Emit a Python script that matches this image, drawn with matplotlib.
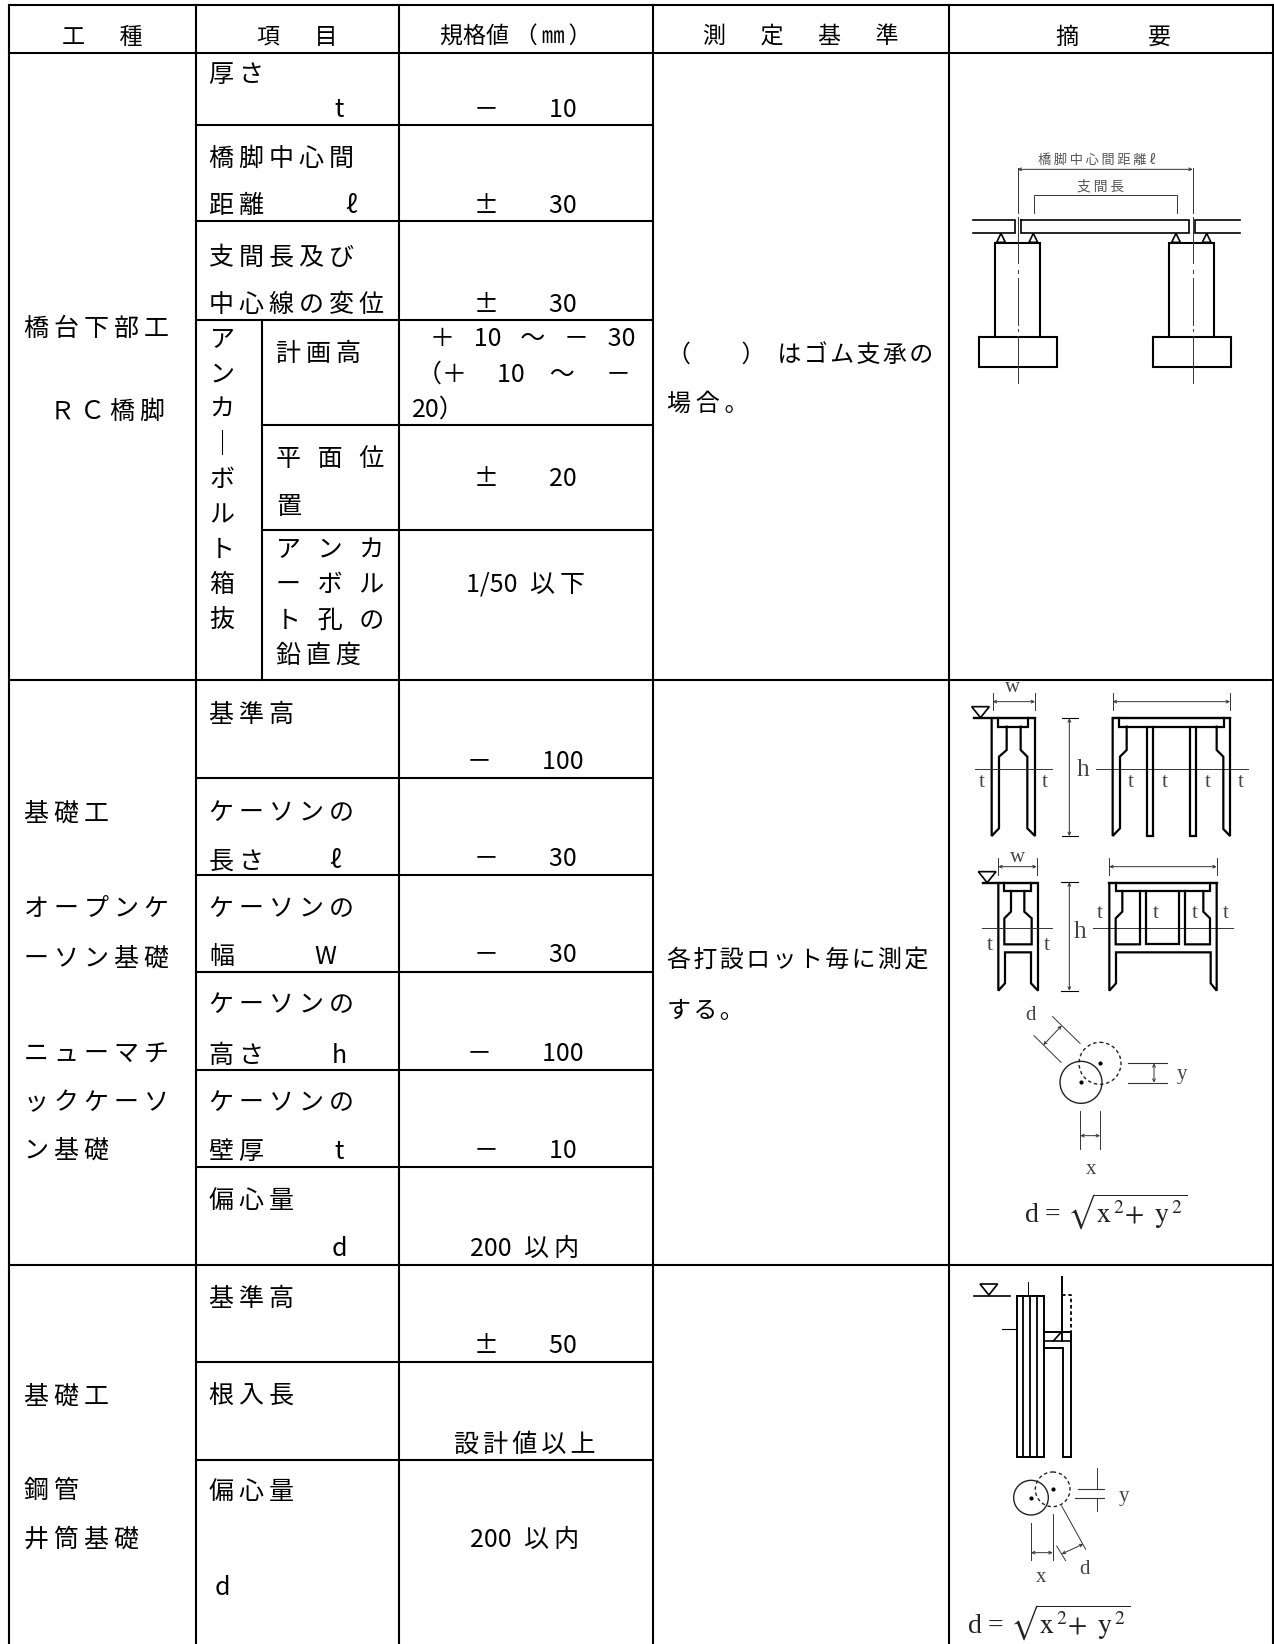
import matplotlib
matplotlib.use("Agg")
import matplotlib.pyplot as plt
from matplotlib.patches import Circle, Polygon

plt.rcParams['font.family'] = ['Noto Sans CJK JP', 'DejaVu Sans']
plt.rcParams['mathtext.fontset'] = 'stix'

W, H = 1274, 1644
GAP = "\u2009"
BODY = 25*0.72
HEAD = 23*0.72
NOTE = 24*0.72

def sp(s,gap=GAP):
  return gap.join(s)

# table rules, in pixels of the page
COLS = [9,196,399,653,949,1273]
FULL_RULES = [5,53,680,1265]
ITEM_RULES = [125,221,320,778,875,972,1070,1167,1362,1460]
ANCHOR_RULES = [425,530]

HEADERS = ["工\u3000\u2005\u2005種", "項\u3000\u2005\u2005目", "規格値\u2005（\u2006㎜\u2006）",
           "測\u3000\u2005\u2005定\u3000\u2005\u2005基\u3000\u2005\u2005準", "摘\u3000\u3000\u3000要"]
HEADER_X = [102,297,516,801,1113]

WORK = [sp("橋台下部工"), sp("ＲＣ橋脚"), sp("基礎工"), sp("オープンケ"), sp("ーソン基礎"),
        sp("ニューマチ"), sp("ックケーソ"), sp("ン基礎"), sp("基礎工"), sp("鋼管"), sp("井筒基礎")]
WORK_X = [24,50,24,24,24,24,24,24,24,24,24]
WORK_Y = [327,410,811,907,956,1052,1101,1148,1394,1489,1537]

ITEMS = [sp("厚さ"), sp("橋脚中心間"), sp("距離"), sp("支間長及び"), sp("中心線の変位"),
         sp("基準高"), sp("ケーソンの"), sp("長さ"), sp("ケーソンの"), sp("幅"), sp("ケーソンの"),
         sp("高さ"), sp("ケーソンの"), sp("壁厚"), sp("偏心量"),
         sp("基準高"), sp("根入長"), sp("偏心量")]
ITEMS_Y = [73,157,204,255,303,713,811,859,907,955,1003,1054,1101,1150,1199,1297,1394,1490]

SYMBOLS = ["t","ℓ","ℓ","W","h","t","d","d"]
SYMBOLS_X = [339,351,335,325,339,339,339,222]
SYMBOLS_Y = [108,204,859,955,1054,1150,1247,1586]

ANCHOR_SIDE = "\n".join("アンカ｜ボルト箱抜")
WIDE = "\u2002\u2006"
ANCHOR = [sp("計画高"), sp("平面位",WIDE), "置", sp("アンカ",WIDE), sp("ーボル",WIDE),
          sp("ト孔の",WIDE), sp("鉛直度")]
ANCHOR_Y = [352,457,505,548,583,618,653]

VALUES = ["－\u3000\u300010","±\u3000\u300030","±\u3000\u300030","±\u3000\u300020","1/50\u2002以\u2009下",
          "－\u3000\u3000100","－\u3000\u300030","－\u3000\u300030","－\u3000\u3000100","－\u3000\u300010","200\u2002以\u2009内",
          "±\u3000\u300050",sp("設計値以上","\u2006"),"200\u2002以\u2009内"]
VALUES_Y = [108,204,303,477,582,760,857,953,1052,1149,1247,1344,1442,1538]

VALUE_LINES = [sp(["＋","10","～","－","30"],"\u2002\u2005"),
               "（＋\u3000\u200910\u3000～\u3000\u2005－", "20）"]
VALUE_LINES_X = [430,417,412]
VALUE_LINES_Y = [337,372,407]

NOTES = ["（\u200a\u3000\u3000）\u2002"+sp("はゴム支承の","\u200a"), sp("場合。","\u2009"),
         sp("各打設ロット毎に測定","\u200a"), sp("する。","\u200a")]
NOTES_Y = [354,402,959,1009]

fig = plt.figure(figsize=(W/100,H/100),dpi=100)
ax = fig.add_axes([0,0,1,1])
ax.set_xlim(0,W)
ax.set_ylim(H,0)
ax.axis('off')

def put(x,y,s,size=BODY,ha='left',**kw):
  # y is the middle of the line, the baseline sits a little below
  ax.text(x,y+size*0.52,s,fontsize=size,ha=ha,va='baseline',color='black',**kw)

for x in COLS:
  ax.plot([x,x],[5,H],color='black',lw=1.5,solid_capstyle='projecting')
for y in FULL_RULES:
  ax.plot([COLS[0],COLS[-1]],[y,y],color='black',lw=1.5)
for y in ITEM_RULES:
  ax.plot([COLS[1],COLS[3]],[y,y],color='black',lw=1.5)
for y in ANCHOR_RULES:
  ax.plot([262,COLS[3]],[y,y],color='black',lw=1.5)
ax.plot([262,262],[320,680],color='black',lw=1.5)

for s,x in zip(HEADERS,HEADER_X):
  put(x,35,s,HEAD,ha='center')
for s,x,y in zip(WORK,WORK_X,WORK_Y):
  put(x,y,s)
for s,y in zip(ITEMS,ITEMS_Y):
  put(209,y,s)
for s,x,y in zip(SYMBOLS,SYMBOLS_X,SYMBOLS_Y):
  put(x,y,s,ha='center')
ax.text(222,327,ANCHOR_SIDE,fontsize=BODY,ha='center',va='top',linespacing=1.45,ma='center')
for s,y in zip(ANCHOR,ANCHOR_Y):
  put(276,y,s)
for s,y in zip(VALUES,VALUES_Y):
  put(525,y,s,ha='center')
for s,x,y in zip(VALUE_LINES,VALUE_LINES_X,VALUE_LINES_Y):
  put(x,y,s)
for s,y in zip(NOTES,NOTES_Y):
  put(667,y,s,NOTE)

# line art below is traced in the 3x zoom coordinates of each drawing
def path(o,pts,lw=1.3,color='black',ls='-'):
  xs = [o[0]+p[0]/3.0 for p in pts]
  ys = [o[1]+p[1]/3.0 for p in pts]
  ax.plot(xs,ys,color=color,lw=lw,ls=ls,solid_joinstyle='miter')

def dim(o,a,b,color='#333333'):
  ax.annotate('',xy=(o[0]+b[0]/3.0,o[1]+b[1]/3.0),xytext=(o[0]+a[0]/3.0,o[1]+a[1]/3.0),
              arrowprops=dict(arrowstyle='<->',color=color,lw=0.7,mutation_scale=5,shrinkA=0,shrinkB=0))

def label(o,x,y,s,size=15,color='#444444'):
  ax.text(o[0]+x/3.0,o[1]+y/3.0,s,fontsize=size,ha='center',va='center',color=color,family='Liberation Serif')

def bearing(o,x,y):
  ax.add_patch(Polygon([(o[0]+x/3.0,o[1]+y/3.0),(o[0]+(x-13)/3.0,o[1]+(y+27)/3.0),(o[0]+(x+13)/3.0,o[1]+(y+27)/3.0)],
                       closed=True,fill=False,ec='black',lw=1.2))

# pier drawing
P = (940,130)
path(P,[(100,270),(225,270),(225,308),(100,308)],1.2)
path(P,[(900,270),(765,270),(765,308),(900,308)],1.2)
path(P,[(243,270),(747,270),(747,308),(243,308),(243,270)],1.2)
for x in [165,688]:
  path(P,[(x,620),(x,340),(x+135,340),(x+135,620)],1.5)
for x in [117,638]:
  path(P,[(x,622),(x+234,622),(x+234,712),(x,712),(x,622)],1.5)
for x in [183,280,708,800]:
  bearing(P,x,310)
for x in [233,758]:
  path(P,[(x,115),(x,250)],0.7,'#333333')
  path(P,[(x,262),(x,400)],0.7,'#333333')
  path(P,[(x,420),(x,428)],0.7,'#333333')
  path(P,[(x,445),(x,585)],0.7,'#333333')
  path(P,[(x,597),(x,604)],0.7,'#333333')
  path(P,[(x,618),(x,758)],0.7,'#333333')
dim(P,(233,118),(758,118))
path(P,[(282,250),(282,195),(712,195),(712,250)],0.7,'#333333')
ax.text(P[0]+470/3.0,P[1]+90/3.0,sp("橋脚中心間距離")+" ℓ",fontsize=9.5,ha='center',va='center',color='#555555')
ax.text(P[0]+482/3.0,P[1]+170/3.0,sp("支間長"),fontsize=10,ha='center',va='center',color='#555555')

def water(o,x,y,wide=53):
  ax.add_patch(Polygon([(o[0]+x/3.0,o[1]+y/3.0),(o[0]+(x+wide)/3.0,o[1]+y/3.0),(o[0]+(x+wide/2.0)/3.0,o[1]+(y+33)/3.0)],
                       closed=True,fill=False,ec='black',lw=1.2))

# open caisson drawings
C = (950,675)
water(C,65,95)
path(C,[(72,130),(255,130)],1.7)
path(C,[(125,130),(125,483),(147,460),(147,245),(170,225),(170,155)],1.6)
path(C,[(255,130),(255,483),(232,460),(232,245),(212,225),(212,155)],1.6)
path(C,[(145,130),(145,155),(233,155),(233,130)],1.6)
path(C,[(75,282),(305,282)],0.7,'#333333')
path(C,[(128,55),(128,105)],0.7,'#333333')
path(C,[(255,55),(255,105)],0.7,'#333333')
dim(C,(128,80),(255,80))
label(C,187,38,'w')
label(C,95,322,'t')
label(C,285,322,'t')
label(C,398,285,'h',18)
dim(C,(358,130),(358,483))
path(C,[(335,130),(385,130)],0.8)
path(C,[(335,483),(385,483)],0.8)
path(C,[(437,282),(893,282)],0.7,'#333333')
path(C,[(488,130),(840,130)],1.7)
path(C,[(488,130),(488,483),(510,460),(510,245),(530,225),(530,155)],1.6)
path(C,[(840,130),(840,483),(820,462),(820,245),(800,225),(800,155)],1.6)
path(C,[(508,130),(508,155),(822,155),(822,130)],1.6)
for x in [590,720]:
  path(C,[(x,155),(x,482),(x+19,482),(x+19,155)],1.6)
path(C,[(488,55),(488,105)],0.7,'#333333')
path(C,[(840,55),(840,105)],0.7,'#333333')
dim(C,(488,80),(840,80))
for x in [542,643,773,873]:
  label(C,x,322,'t')

water(C,85,590)
path(C,[(100,624),(262,624)],1.7)
path(C,[(145,624),(145,947),(165,925),(165,832),(243,832),(243,925),(264,947),(264,624)],1.6)
path(C,[(163,624),(163,648),(243,648),(243,624)],1.6)
path(C,[(183,648),(183,710),(163,730),(163,808),(245,808),(245,730),(223,710),(223,648)],1.6)
path(C,[(97,760),(307,760)],0.7,'#333333')
label(C,118,810,'t')
label(C,290,810,'t')
label(C,203,548,'w')
path(C,[(145,550),(145,600)],0.7,'#333333')
path(C,[(260,550),(260,600)],0.7,'#333333')
dim(C,(145,575),(260,575))
label(C,390,770,'h',18)
dim(C,(358,622),(358,947))
path(C,[(332,622),(385,622)],0.8)
path(C,[(332,947),(385,947)],0.8)
path(C,[(430,760),(848,760)],0.7,'#333333')
path(C,[(478,624),(800,624)],1.7)
path(C,[(478,624),(478,947),(498,925),(498,832),(782,832),(782,925),(800,947),(800,624)],1.6)
path(C,[(497,624),(497,648),(780,648),(780,624)],1.6)
path(C,[(517,648),(517,710),(497,730),(497,808),(570,808),(570,648)],1.6)
path(C,[(588,648),(588,808),(688,808),(688,648)],1.6)
path(C,[(705,648),(705,808),(780,808),(780,730),(760,710),(760,648)],1.6)
path(C,[(478,550),(478,600)],0.7,'#333333')
path(C,[(800,550),(800,600)],0.7,'#333333')
dim(C,(478,575),(800,575))
for x,s in zip([450,617,735,828],'tttt'):
  label(C,x,715,s)

def circles(o,c1,c2,r):
  ax.add_patch(Circle((o[0]+c1[0]/3.0,o[1]+c1[1]/3.0),r/3.0,fill=False,ec='#222222',lw=1.0))
  ax.add_patch(Circle((o[0]+c2[0]/3.0,o[1]+c2[1]/3.0),r/3.0,fill=False,ec='#222222',lw=1.0,ls=(0,(2.5,2))))
  ax.plot([o[0]+c1[0]/3.0,o[0]+c2[0]/3.0],[o[1]+c1[1]/3.0,o[1]+c2[1]/3.0],ls='',marker='o',ms=2,color='black')

# eccentricity sketch, caisson row
E = (950,975)
circles(E,(393,322),(450,265),63)
path(E,[(308,125),(390,205)],0.7,'#333333')
path(E,[(252,182),(333,262)],0.7,'#333333')
dim(E,(335,152),(280,210))
label(E,240,122,'d')
path(E,[(535,265),(652,265)],0.8,'#333333')
path(E,[(535,323),(652,323)],0.8,'#333333')
dim(E,(612,265),(612,323))
label(E,697,298,'y')
path(E,[(391,408),(391,522)],0.7,'#333333')
path(E,[(450,408),(450,522)],0.7,'#333333')
dim(E,(391,482),(450,482))
label(E,422,582,'x')
FORMULA = r'd = $\sqrt{\mathrm{x}^{\,2}\!+\ \mathrm{y}^{\,2}}$'
ax.text(E[0]+222/3.0,E[1]+712/3.0,FORMULA,fontsize=20,ha='left',va='center',color='#222222',family='Liberation Serif')

# steel pipe well drawing
S = (950,1260)
water(S,90,72)
path(S,[(73,107),(180,107)],1.2)
path(S,[(155,207),(197,207)],0.8)
path(S,[(200,107),(283,107),(283,590),(200,590),(200,107)],1.4)
for x in [220,241,262]:
  path(S,[(x,107),(x,590)],1.3)
path(S,[(233,65),(233,107)],0.7)
path(S,[(337,50),(337,243)],1.4)
path(S,[(337,105),(362,105),(362,215)],1.3,ls=(0,(2,1.5)))
path(S,[(283,215),(362,215),(362,590),(338,590),(338,265),(283,265)],1.4)
path(S,[(283,243),(362,243)],1.2)
path(S,[(310,243),(335,215)],1.2)

circles(S,(243,713),(308,688),52)
path(S,[(385,687),(462,687)],0.8,'#333333')
path(S,[(375,713),(462,713)],0.8,'#333333')
path(S,[(442,625),(442,687)],0.7,'#333333')
path(S,[(442,713),(442,752)],0.7,'#333333')
label(S,522,708,'y')
path(S,[(243,788),(243,900)],0.7,'#333333')
path(S,[(308,762),(308,900)],0.7,'#333333')
dim(S,(243,878),(308,878))
label(S,273,952,'x')
path(S,[(335,738),(407,868)],0.7,'#333333')
path(S,[(320,858),(347,902)],0.7,'#333333')
dim(S,(335,882),(400,852))
label(S,405,928,'d')
ax.text(S[0]+50/3.0,S[1]+1090/3.0,FORMULA,fontsize=20,ha='left',va='center',color='#222222',family='Liberation Serif')

fig.savefig("out.png",dpi=100,facecolor='white')
